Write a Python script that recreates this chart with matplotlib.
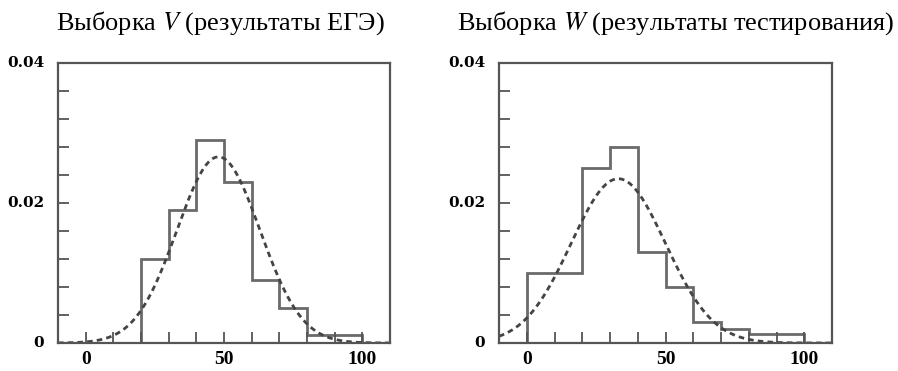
import numpy as np
import matplotlib
matplotlib.use("Agg")
import matplotlib.pyplot as plt
from matplotlib.ticker import MultipleLocator, FixedLocator

plt.rcParams["mathtext.fontset"] = "stix"

# ---- data ----
bin_edges = [-10, 0, 10, 20, 30, 40, 50, 60, 70, 80, 90, 100, 110]
hist_V = [0, 0, 0, 0.012, 0.019, 0.029, 0.023, 0.009, 0.005, 0.0012, 0.0012, 0]
hist_W = [0, 0.010, 0.010, 0.025, 0.028, 0.013, 0.008, 0.003, 0.002, 0.0013, 0.0013, 0]
mean_V, sd_V = 48.0, 15.0
mean_W, sd_W = 33.0, 17.0
x_ticks = [0, 50, 100]
y_ticks = [0, 0.02, 0.04]
y_tick_labels = ["0", "0.02", "0.04"]

serif = ["Liberation Serif", "DejaVu Serif"]

fig = plt.figure(figsize=(8.98, 3.71), dpi=100)
ax1 = fig.add_axes([58/898, 1-343/371, 332/898, 280/371])
ax2 = fig.add_axes([499/898, 1-343/371, 333/898, 280/371])

frame_c = "#555555"
hist_c = "#6a6a6a"
curve_c = "#444444"

def normal_pdf(x, m, s):
    return np.exp(-0.5*((x-m)/s)**2)/(s*np.sqrt(2*np.pi))

for ax, h, m, s in [(ax1, hist_V, mean_V, sd_V), (ax2, hist_W, mean_W, sd_W)]:
    ax.stairs(h, bin_edges, baseline=0, fill=False, color=hist_c, lw=2.0)
    xs = np.linspace(-10, 110, 400)
    ax.plot(xs, normal_pdf(xs, m, s), color=curve_c, lw=2.0, ls=(0, (2.0, 1.5)))
    ax.set_xlim(-10, 110)
    ax.set_ylim(0, 0.04)
    ax.xaxis.set_major_locator(FixedLocator(x_ticks))
    ax.xaxis.set_minor_locator(MultipleLocator(10))
    ax.yaxis.set_major_locator(FixedLocator(y_ticks))
    ax.yaxis.set_minor_locator(MultipleLocator(0.004))
    ax.set_yticklabels(y_tick_labels)
    ax.set_xticklabels([str(t) for t in x_ticks])
    ax.tick_params(which="both", direction="in", length=8, width=1.3, color=frame_c,
                   top=False, right=False)
    ax.tick_params(axis="x", pad=6)
    ax.tick_params(axis="y", pad=10)
    for lab in ax.get_xticklabels():
        lab.set_family(serif)
        lab.set_fontweight("bold")
        lab.set_fontsize(14)
    for lab in ax.get_yticklabels():
        lab.set_family(["DejaVu Serif"])
        lab.set_fontweight("bold")
        lab.set_fontsize(11)
        lab.set_verticalalignment("center")
    for sp in ax.spines.values():
        sp.set_color(frame_c)
        sp.set_linewidth(1.6)

fig.text(220/898, 1-23/371, "Выборка $V$ (результаты ЕГЭ)", ha="center", va="center",
         fontsize=19, family=serif)
fig.text(676/898, 1-23/371, "Выборка $W$ (результаты тестирования)", ha="center", va="center",
         fontsize=19, family=serif)

fig.savefig("out.png", dpi=100)
